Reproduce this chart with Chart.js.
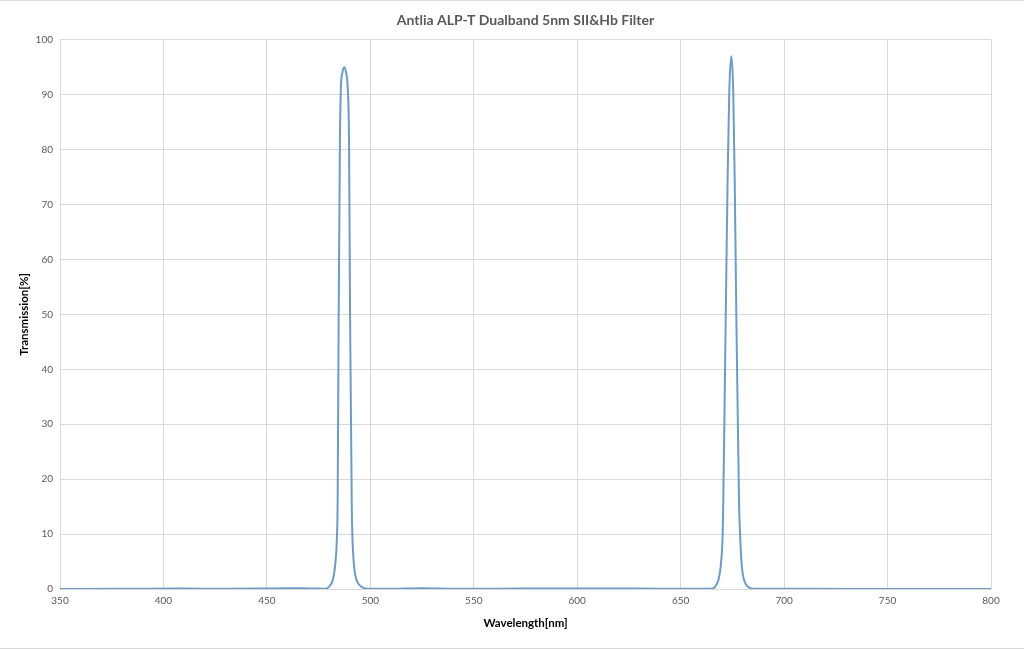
<!DOCTYPE html>
<html>
<head>
<meta charset="utf-8">
<script src="https://cdn.jsdelivr.net/npm/chart.js@4"></script>
<style>
  html, body { margin: 0; padding: 0; background: #fff; }
  #wrap { position: relative; width: 1024px; height: 649px; box-sizing: border-box; border-top: 1px solid #d9d9d9; border-bottom: 1px solid #d9d9d9; }
</style>
</head>
<body>
<div id="wrap"><canvas id="chart" width="1024" height="647"></canvas></div>
<script>
// wavelength [nm] and transmission [%]
var wavelengths = [350, 380, 408, 430, 450, 460, 470, 478,
    480.0, 481.8, 482.9, 483.9, 484.2, 484.7, 485.3, 485.8, 486.5, 487.4,
    488.3, 489.1, 489.7, 490.2, 491.0, 491.3, 492.2, 493.4, 495.8, 498,
    510, 525, 540, 560, 590, 615, 640, 660, 664.5,
    666.6, 668.2, 669.3, 670.3, 670.6, 671.8, 672.7, 673.5, 674.5,
    675.4, 676.1, 676.9, 678.2, 678.7, 679.6, 680.7, 682.6, 685,
    700, 730, 760, 800];
var transmission = [0.02, 0.03, 0.08, 0.03, 0.08, 0.15, 0.1, 0.05,
    0.4, 1.6, 4, 10, 16, 50, 81.6, 91.5, 94, 95,
    94, 91, 81.6, 50, 16, 10, 4, 1.6, 0.4, 0.05,
    0.05, 0.15, 0.05, 0.05, 0.1, 0.1, 0.05, 0.05, 0.05,
    0.4, 1.6, 4, 10, 16, 50, 75, 90.7, 97,
    90.7, 75, 50, 16, 10, 4, 1.6, 0.4, 0.05,
    0.03, 0.02, 0.02, 0.02];
var xTicks = [350, 400, 450, 500, 550, 600, 650, 700, 750, 800];

var points = wavelengths.map(function (w, i) {
    return { x: w, y: transmission[i] };
});

var fontFamily = "Lato, 'Open Sans', sans-serif";
var gridColor = "#d9d9d9";

new Chart(document.getElementById("chart").getContext("2d"), {
    type: "line",
    data: {
        datasets: [{
            data: points,
            borderColor: "#6b9bcb",
            borderWidth: 2,
            pointRadius: 0,
            cubicInterpolationMode: "monotone",
            fill: false
        }]
    },
    options: {
        responsive: false,
        animation: false,
        layout: { padding: { left: 0, right: 33, top: 0, bottom: 0 } },
        plugins: {
            legend: { display: false },
            tooltip: { enabled: false },
            title: {
                display: true,
                fullSize: false,
                text: "Antlia ALP-T Dualband 5nm SII&Hb Filter",
                color: "#595959",
                font: { family: fontFamily, size: 14, weight: "bold" },
                padding: { top: 11, bottom: 11 }
            }
        },
        scales: {
            x: {
                type: "linear",
                min: 350,
                max: 800,
                afterBuildTicks: function (axis) {
                    axis.ticks = xTicks.map(function (v) { return { value: v }; });
                },
                afterFit: function (axis) { axis.height = 59; },
                grid: { color: gridColor, drawTicks: false },
                border: { color: gridColor },
                ticks: { color: "#595959", font: { family: fontFamily, size: 10 }, padding: 6, maxRotation: 0 },
                title: {
                    display: true,
                    text: "Wavelength[nm]",
                    color: "#000",
                    font: { family: fontFamily, size: 11.5, weight: "bold" },
                    padding: { top: 0, bottom: 18 }
                }
            },
            y: {
                min: 0,
                max: 100,
                afterFit: function (axis) { axis.width = 60; },
                grid: { color: gridColor, drawTicks: false },
                border: { color: gridColor },
                ticks: { stepSize: 10, color: "#595959", font: { family: fontFamily, size: 10 }, padding: 7 },
                title: {
                    display: true,
                    text: "Transmission[%]",
                    color: "#000",
                    font: { family: fontFamily, size: 11.5, weight: "bold" },
                    padding: { top: 17, bottom: 0 }
                }
            }
        }
    }
});
</script>
</body>
</html>
